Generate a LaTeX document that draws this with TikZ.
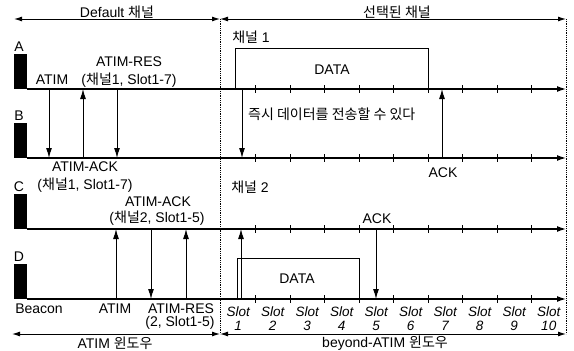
\documentclass[tikz,border=0pt]{standalone}
\usepackage{fontspec}
\setmainfont{Liberation Sans}
\newfontfamily\kr{Noto Sans CJK KR}
\usetikzlibrary{arrows.meta}
\newcommand{\ko}[1]{{\kr #1}}

\begin{document}
\begin{tikzpicture}[x=1pt, y=-1pt,
  txt/.style = {inner sep=0pt, font=\fontsize{14}{16}\selectfont},
  slotlbl/.style = {inner sep=0pt, font=\fontsize{13.5}{15}\selectfont\itshape},
  axis/.style = {line width=1.3pt, -{Latex[length=9pt,width=6pt]}},
  msg/.style = {line width=1pt, -{Latex[length=10pt,width=6pt]}},
  span/.style = {line width=1pt, {Latex[length=8pt,width=5pt]}-{Latex[length=8pt,width=5pt]}},
  divider/.style = {densely dotted, line width=0.8pt},
  frame/.style = {line width=1pt}]
\useasboundingbox (0,0) rectangle (574,351);

% stations A-D with their time lines
\foreach \n/\y in {A/89, B/158, C/229, D/299} {
  \coordinate (\n0) at (27,\y);
  \coordinate (\n1) at (566,\y);
  \fill (14,\y) rectangle (27,\y-35);
  \node[txt] (\n) at (19,\y-42) {\n};
  \draw[axis] (\n0) -- (\n1);
  \foreach \k in {1,...,9}
    \draw[line width=0.8pt] (221+34.5*\k,\y-4) -- (221+34.5*\k,\y+4);
}

% window borders and spans
\coordinate (div-t) at (220,19);
\coordinate (div-b) at (220,334);
\coordinate (end-t) at (566,19);
\coordinate (end-b) at (566,334);
\coordinate (top-l) at (14,19);
\coordinate (bot-l) at (12,334);
\draw[divider] (div-t) -- (div-b);
\draw[divider] (end-t) -- (end-b);
\draw[span] (top-l) -- (div-t);
\draw[span] (div-t) -- (end-t);
\draw[span] (bot-l) -- (div-b);
\draw[span] (div-b) -- (end-b);
\node[txt] (dflt) at (117,12) {Default \ko{채널}};
\node[txt] (sel) at (397,12) {\ko{선택된 채널}};
\node[txt] (win) at (115,343) {ATIM \ko{윈도우}};
\node[txt] (bwin) at (385,343) {beyond-ATIM \ko{윈도우}};

% messages between stations
\foreach \x/\ya/\yb [count=\i] in {49/89/158, 83/158/89, 117/89/158, 242/89/158, 442/158/89,
    116/299/229, 151/229/299, 186/299/229, 241/299/229, 376/229/299} {
  \coordinate (m\i-s) at (\x,\ya);
  \coordinate (m\i-e) at (\x,\yb);
  \draw[msg] (m\i-s) -- (m\i-e);
}

% data frames
\draw[frame] (235,89) -- (235,48) -- (428,48) -- (428,89);
\draw[frame] (237,299) -- (237,258) -- (359,258) -- (359,299);
\node[txt] (dataA) at (332,70) {DATA};
\node[txt] (dataD) at (297,279) {DATA};

% labels
\node[txt] (atimA) at (52,80) {ATIM};
\node[txt] (resA) at (129,62) {ATIM-RES};
\node[txt] (resA2) at (129,80) {(\ko{채널}1, Slot1-7)};
\node[txt] (ch1) at (251,37) {\ko{채널} 1};
\node[txt, anchor=west] (now) at (248,114) {\ko{즉시 데이터를 전송할 수 있다}};
\node[txt] (ackB) at (85,167) {ATIM-ACK};
\node[txt] (ackB2) at (85,185) {(\ko{채널}1, Slot1-7)};
\node[txt] (ackb) at (443,173) {ACK};
\node[txt] (ch2) at (250,187) {\ko{채널} 2};
\node[txt] (ackC) at (158,202) {ATIM-ACK};
\node[txt] (ackC2) at (157,218) {(\ko{채널}2, Slot1-5)};
\node[txt] (ackc) at (377,219) {ACK};
\node[txt] (beacon) at (39,309) {Beacon};
\node[txt] (atimD) at (115,309) {ATIM};
\node[txt] (resD) at (181,309) {ATIM-RES};
\node[txt] (resD2) at (180,323) {(2, Slot1-5)};
\foreach \k in {1,...,10} {
  \node[slotlbl] (slot\k) at (203.75+34.5*\k,312) {Slot};
  \node[slotlbl] (num\k) at (203.75+34.5*\k,326) {\k};
}
\end{tikzpicture}
\end{document}
